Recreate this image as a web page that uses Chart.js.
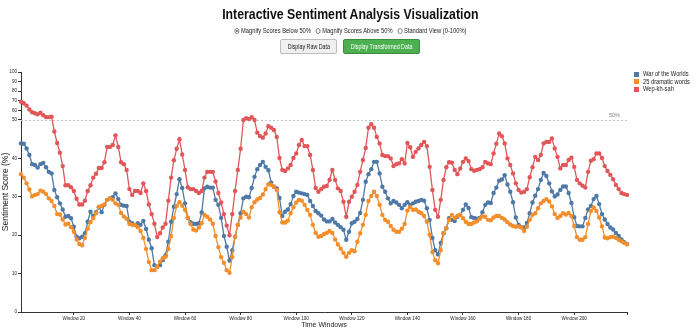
<!DOCTYPE html>
<html>
<head>
<meta charset="utf-8">
<title>Interactive Sentiment Analysis Visualization</title>
<script src="https://cdn.jsdelivr.net/npm/chart.js@4.4.1/dist/chart.umd.min.js"></script>
<style>
  html, body { margin: 0; padding: 0; background: #fff; }
  body { width: 700px; height: 333px; position: relative; overflow: hidden;
         font-family: 'Liberation Sans', Arial, sans-serif; color: #222; }
  #chart { position: absolute; left: 0; top: 0; }
  .narrow { display: inline-block; white-space: nowrap; transform: scaleX(0.82); transform-origin: center; }
  .title { position: absolute; left: 0; top: 5px; width: 700px; text-align: center;
           font-weight: bold; font-size: 15px; line-height: 17px; color: #111; }
  .modes { position: absolute; left: 0; top: 27px; width: 700px; text-align: center;
           font-size: 7px; line-height: 8px; color: #222; }
  .modes label { margin: 0 2px; white-space: nowrap; }
  .radio { display: inline-block; width: 4px; height: 4px; border: 0.8px solid #777; border-radius: 50%;
           vertical-align: -0.5px; margin-right: 2px; position: relative; background: #fff; }
  .radio.on::after { content: ''; position: absolute; left: 1px; top: 1px; width: 2px; height: 2px;
           border-radius: 50%; background: #444; }
  .buttons { position: absolute; left: 0; top: 39px; width: 700px; text-align: center; font-size: 0; }
  .btn { display: inline-block; box-sizing: border-box; height: 15px; line-height: 13px; font-size: 6.5px;
         border-radius: 2px; margin: 0 3px; vertical-align: top; text-align: center; white-space: nowrap; overflow: hidden; }
  .btn.raw { background: #f0f0f0; border: 1px solid #bdbdbd; color: #222; width: 57px; }
  .btn.transformed { background: #4caf50; border: 1px solid #3d8b40; color: #fff; width: 77px; }
  .legend { position: absolute; left: 634px; top: 70px; font-size: 7px; line-height: 7.5px; color: #222; }
  .legend div { white-space: nowrap; height: 7.5px; }
  .legend .swatch { display: inline-block; width: 5px; height: 5px; margin-right: 4px; vertical-align: -0.5px; }
  .legend .narrow { transform-origin: left center; }
</style>
</head>
<body>
<canvas id="chart" width="700" height="333"></canvas>
<div class="title"><span class="narrow">Interactive Sentiment Analysis Visualization</span></div>
<div class="modes"><span class="narrow">
  <label><span class="radio on"></span>Magnify Scores Below 50%</label>
  <label><span class="radio"></span>Magnify Scores Above 50%</label>
  <label><span class="radio"></span>Standard View (0-100%)</label>
</span></div>
<div class="buttons">
  <span class="btn raw"><span class="narrow">Display Raw Data</span></span><span class="btn transformed"><span class="narrow">Display Transformed Data</span></span>
</div>
<div class="legend" id="legend"></div>
<script>
// Sentiment score per time window (percent), one array per text.
const warOfTheWorlds = [
  43.9, 43.8, 42.6, 40.9, 38.5, 38.3, 37.6, 38.5, 38.8, 37.7, 36.5, 36.1,
  31.8, 29.9, 28.3, 26.7, 24.8, 25.0, 24.4, 22.2, 19.6, 19.2, 19.6, 20.5,
  23.5, 26.1, 25.0, 26.0, 27.3, 26.0, 27.9, 29.2, 29.6, 29.9, 30.9, 29.4,
  27.9, 27.7, 27.6, 23.5, 23.1, 22.7, 23.1, 22.7, 23.7, 21.6, 18.8, 16.6,
  12.2, 11.8, 12.2, 13.5, 14.8, 18.3, 23.5, 27.4, 30.7, 34.6, 32.3, 28.3,
  24.5, 23.4, 23.0, 22.9, 23.1, 25.9, 32.2, 32.6, 32.4, 32.4, 29.2, 27.9,
  24.5, 19.8, 17.0, 13.4, 16.1, 19.6, 22.7, 25.7, 29.6, 30.0, 29.9,
  32.3, 35.2, 37.2, 38.3, 39.1, 37.8, 36.9, 33.7, 32.6, 32.2, 29.7, 25.0,
  26.1, 26.7, 28.1, 30.2, 31.3, 31.1, 30.9, 30.7, 30.5, 28.9, 27.6, 26.3,
  25.7, 25.1, 24.1, 23.6, 23.6, 24.2, 23.3, 22.7, 22.1, 21.4, 18.8, 20.9,
  23.1, 23.5, 24.2, 25.8, 29.2, 33.9, 35.9, 37.2, 39.1, 39.1, 36.1, 32.6,
  31.3, 29.6, 28.3, 28.9, 28.5, 27.9, 27.0, 27.9, 28.6, 27.9, 28.3, 28.7,
  28.9, 29.2, 29.0, 27.0, 24.0, 19.3, 16.1, 15.0, 18.0, 20.5, 21.8, 24.4,
  24.0, 23.7, 24.8, 25.3, 26.6, 28.0, 27.1, 24.7, 24.5, 24.3, 24.5, 26.0,
  27.9, 28.5, 28.4, 31.0, 32.4, 34.2, 34.5, 35.6, 33.2, 31.3, 28.6, 24.6,
  22.7, 22.1, 22.0, 23.2, 25.7, 28.5, 30.3, 32.0, 34.4, 36.2, 35.4, 33.5,
  31.4, 30.1, 30.6, 31.8, 32.7, 32.7, 31.0, 28.4, 24.7, 22.4, 22.3, 22.3,
  24.5, 26.7, 27.6, 29.4, 30.2, 28.1, 25.5, 24.1, 22.9, 22.0, 21.5, 20.6,
  19.8, 18.9, 18.2, 17.7
];
const dramaticWords = [
  35.9, 35.0, 33.5, 31.9, 30.1, 30.5, 30.7, 31.6, 31.3, 30.7, 29.6, 28.9,
  27.6, 25.5, 25.4, 24.1, 22.8, 23.0, 22.1, 20.9, 18.9, 17.7, 17.4, 19.3,
  21.7, 23.4, 24.4, 25.7, 27.4, 27.6, 28.0, 29.2, 29.6, 29.2, 28.3, 27.9,
  25.8, 24.9, 24.3, 23.0, 22.7, 22.7, 22.1, 21.1, 19.3, 16.4, 13.0, 10.9,
  10.9, 11.8, 13.1, 14.0, 14.4, 16.4, 19.8, 24.5, 27.6, 28.6, 27.7, 26.6,
  24.6, 22.9, 21.5, 21.2, 22.0, 23.1, 25.3, 24.8, 24.1, 23.0, 19.8, 16.9,
  14.3, 12.8, 10.9, 10.2, 14.3, 19.6, 22.7, 24.6, 26.1, 25.5, 24.6,
  27.3, 28.6, 29.3, 29.7, 30.6, 32.0, 33.3, 33.1, 32.6, 31.8, 26.0, 23.3,
  23.3, 23.8, 25.7, 27.3, 28.5, 29.2, 29.0, 27.9, 26.6, 25.3, 22.7, 20.6,
  19.6, 19.8, 20.3, 20.6, 21.1, 20.6, 18.9, 17.6, 16.5, 15.4, 14.4, 15.4,
  16.1, 15.8, 18.3, 20.5, 22.7, 25.3, 28.9, 30.2, 31.3, 30.2, 27.9, 25.3,
  24.0, 23.5, 22.4, 21.4, 20.9, 20.9, 21.7, 22.9, 26.4, 27.3, 26.6, 26.7,
  26.1, 25.7, 25.0, 23.5, 20.1, 15.6, 13.5, 12.7, 16.1, 20.5, 21.8, 24.0,
  25.3, 24.5, 25.0, 25.3, 24.4, 23.5, 22.9, 22.9, 23.3, 23.6, 24.2, 24.9,
  24.8, 24.0, 23.9, 24.6, 25.0, 25.0, 24.5, 24.1, 23.4, 22.8, 22.4, 22.2,
  22.3, 22.0, 21.1, 22.2, 24.0, 25.3, 25.7, 27.0, 28.3, 28.9, 29.4, 28.8,
  27.5, 25.5, 24.5, 25.0, 25.7, 25.4, 25.8, 25.0, 22.4, 19.5, 18.8, 18.8,
  19.5, 22.9, 26.3, 27.2, 26.3, 24.6, 22.3, 19.4, 19.2, 19.5, 19.6, 19.3,
  18.8, 18.4, 18.0, 17.6
];
const wepKhSah = [
  69.0, 67.5, 65.0, 61.0, 58.0, 57.0, 56.0, 57.5, 55.0, 53.0, 53.0, 53.5,
  47.0, 44.0, 41.5, 38.0, 33.0, 33.0, 32.5, 31.5, 29.5, 28.0, 28.0, 29.0,
  31.5, 33.0, 35.0, 36.0, 37.5, 37.5, 39.0, 43.0, 43.0, 43.5, 46.0, 43.0,
  39.0, 38.5, 37.0, 32.0, 30.5, 31.5, 31.5, 31.0, 33.5, 31.5, 28.0, 25.5,
  23.0, 19.5, 20.5, 22.0, 23.0, 29.0, 35.0, 39.5, 42.5, 45.0, 41.0, 37.0,
  32.5, 32.0, 32.0, 31.5, 31.0, 31.5, 35.0, 36.5, 36.5, 36.5, 34.0, 31.0,
  28.5, 25.5, 22.5, 20.0, 25.5, 31.5, 37.0, 42.5, 50.0, 52.0, 51.0,
  52.8, 50.0, 46.7, 45.8, 45.4, 46.5, 48.4, 48.0, 47.4, 45.6, 40.1, 37.0,
  36.7, 37.4, 38.3, 40.1, 41.3, 43.5, 44.8, 43.2, 43.2, 40.9, 37.0, 32.3,
  31.3, 32.0, 32.6, 32.8, 34.4, 37.0, 34.4, 32.2, 31.5, 28.7, 24.8, 28.7,
  30.0, 31.3, 33.1, 36.5, 39.6, 42.7, 48.0, 48.9, 48.0, 45.6, 43.9, 40.9,
  40.6, 40.6, 40.0, 38.0, 38.5, 38.7, 39.8, 38.7, 44.0, 42.9, 40.4, 41.7,
  42.6, 43.5, 44.3, 43.2, 37.8, 31.8, 26.6, 24.8, 29.2, 34.4, 37.7, 39.0,
  38.9, 37.0, 35.9, 37.4, 39.1, 40.0, 39.3, 37.2, 36.8, 37.0, 37.2, 37.7,
  39.1, 38.7, 38.5, 41.3, 43.8, 46.5, 45.8, 43.9, 40.0, 38.3, 36.1, 33.5,
  31.8, 31.1, 31.3, 32.0, 35.1, 37.7, 40.4, 39.6, 40.9, 43.9, 44.3, 44.3,
  45.2, 42.6, 40.4, 37.4, 38.3, 38.3, 39.6, 40.2, 37.8, 34.4, 33.5, 32.9,
  32.4, 36.5, 39.4, 39.8, 41.3, 41.3, 40.1, 38.0, 36.7, 35.7, 34.6, 33.1,
  32.0, 31.0, 30.7, 30.5
];

const seriesNames = ['War of the Worlds', '25 dramatic words', 'Wep-kh-sah'];
const seriesColors = ['#4e79a7', '#f28e2b', '#e15759'];

// Time windows are numbered from 1; every 20th one gets a labelled tick.
const windows = warOfTheWorlds.map((_, i) => 'Window ' + (i + 1));
const tickEvery = 20;
const yTickValues = [0, 10, 20, 30, 40, 50, 60, 70, 80, 90, 100];

// Below the threshold the axis is stretched: 0-50 takes 80% of the height.
const THRESHOLD = 50;
const LOWER_SHARE = 0.8;

function toDecimal(v) {
  return v <= THRESHOLD
    ? (v / THRESHOLD) * LOWER_SHARE
    : LOWER_SHARE + ((v - THRESHOLD) / (100 - THRESHOLD)) * (1 - LOWER_SHARE);
}
function fromDecimal(d) {
  return d <= LOWER_SHARE
    ? (d / LOWER_SHARE) * THRESHOLD
    : THRESHOLD + ((d - LOWER_SHARE) / (1 - LOWER_SHARE)) * (100 - THRESHOLD);
}

class MagnifiedScale extends Chart.LinearScale {
  getPixelForValue(value) {
    return this.getPixelForDecimal(toDecimal(value));
  }
  getValueForPixel(pixel) {
    return fromDecimal(this.getDecimalForPixel(pixel));
  }
}
MagnifiedScale.id = 'magnified';
MagnifiedScale.defaults = Chart.LinearScale.defaults;
Chart.register(MagnifiedScale);

const FONT = "'Liberation Sans', Arial, sans-serif";

// Dashed 50% reference line with its label, plus the closing tick on the x axis.
const thresholdLine = {
  id: 'thresholdLine',
  beforeDatasetsDraw(chart) {
    const { ctx, chartArea, scales } = chart;
    const py = Math.round(scales.y.getPixelForValue(THRESHOLD)) + 0.5;
    ctx.save();
    ctx.strokeStyle = '#c4c4c4';
    ctx.lineWidth = 1;
    ctx.setLineDash([2, 2]);
    ctx.beginPath();
    ctx.moveTo(chartArea.left, py);
    ctx.lineTo(chartArea.right, py);
    ctx.stroke();
    ctx.setLineDash([]);
    ctx.fillStyle = '#888';
    ctx.font = '5.5px ' + FONT;
    ctx.textAlign = 'right';
    ctx.textBaseline = 'bottom';
    ctx.fillText(THRESHOLD + '%', chartArea.right - 7, py - 2);
    ctx.strokeStyle = '#333';
    ctx.beginPath();
    ctx.moveTo(chartArea.right + 0.5, chartArea.bottom);
    ctx.lineTo(chartArea.right + 0.5, chartArea.bottom + 3);
    ctx.stroke();
    ctx.restore();
  }
};

const datasets = [warOfTheWorlds, dramaticWords, wepKhSah].map((values, i) => ({
  label: seriesNames[i],
  data: values,
  borderColor: seriesColors[i],
  backgroundColor: seriesColors[i],
  pointBackgroundColor: seriesColors[i],
  pointBorderWidth: 0,
  pointRadius: 2.2,
  borderWidth: 1.3,
  tension: 0,
  order: 3 - i
}));

new Chart(document.getElementById('chart'), {
  type: 'line',
  data: { labels: windows, datasets },
  options: {
    responsive: false,
    animation: false,
    devicePixelRatio: 1,
    layout: { padding: { top: 72, right: 73, left: 0, bottom: 0 } },
    plugins: { legend: { display: false }, tooltip: { enabled: false } },
    scales: {
      x: {
        type: 'category',
        afterBuildTicks(scale) {
          scale.ticks = scale.ticks.filter(t => (t.value + 1) % tickEvery === 0);
        },
        afterFit(scale) { scale.height = 21; },
        grid: { display: true, drawOnChartArea: false, drawTicks: true, tickLength: 3, color: '#333' },
        border: { display: true, color: '#333', width: 1 },
        ticks: { autoSkip: false, maxRotation: 0, padding: 1, color: '#222', font: { family: FONT, size: 4.6 } },
        title: { display: true, text: 'Time Windows', color: '#222', padding: { top: 0, bottom: 4 },
                 font: { family: FONT, size: 7 } }
      },
      y: {
        type: 'magnified',
        min: 0,
        max: 100,
        afterBuildTicks(scale) {
          scale.ticks = yTickValues.map(v => ({ value: v }));
        },
        afterFit(scale) { scale.width = 21; },
        grid: { display: true, drawOnChartArea: false, drawTicks: true, tickLength: 3, color: '#333' },
        border: { display: true, color: '#333', width: 1 },
        ticks: { padding: 1, color: '#222', font: { family: FONT, size: 4.6 } },
        title: { display: true, text: 'Sentiment Score (%)', color: '#222', padding: { top: 1, bottom: 0 },
                 font: { family: FONT, size: 8.5 } }
      }
    }
  },
  plugins: [thresholdLine]
});

// Legend rows built from the series names and colours.
const legend = document.getElementById('legend');
seriesNames.forEach((name, i) => {
  const row = document.createElement('div');
  const swatch = document.createElement('span');
  swatch.className = 'swatch';
  swatch.style.background = seriesColors[i];
  const text = document.createElement('span');
  text.className = 'narrow';
  text.textContent = name;
  row.appendChild(swatch);
  row.appendChild(text);
  legend.appendChild(row);
});
</script>
</body>
</html>
